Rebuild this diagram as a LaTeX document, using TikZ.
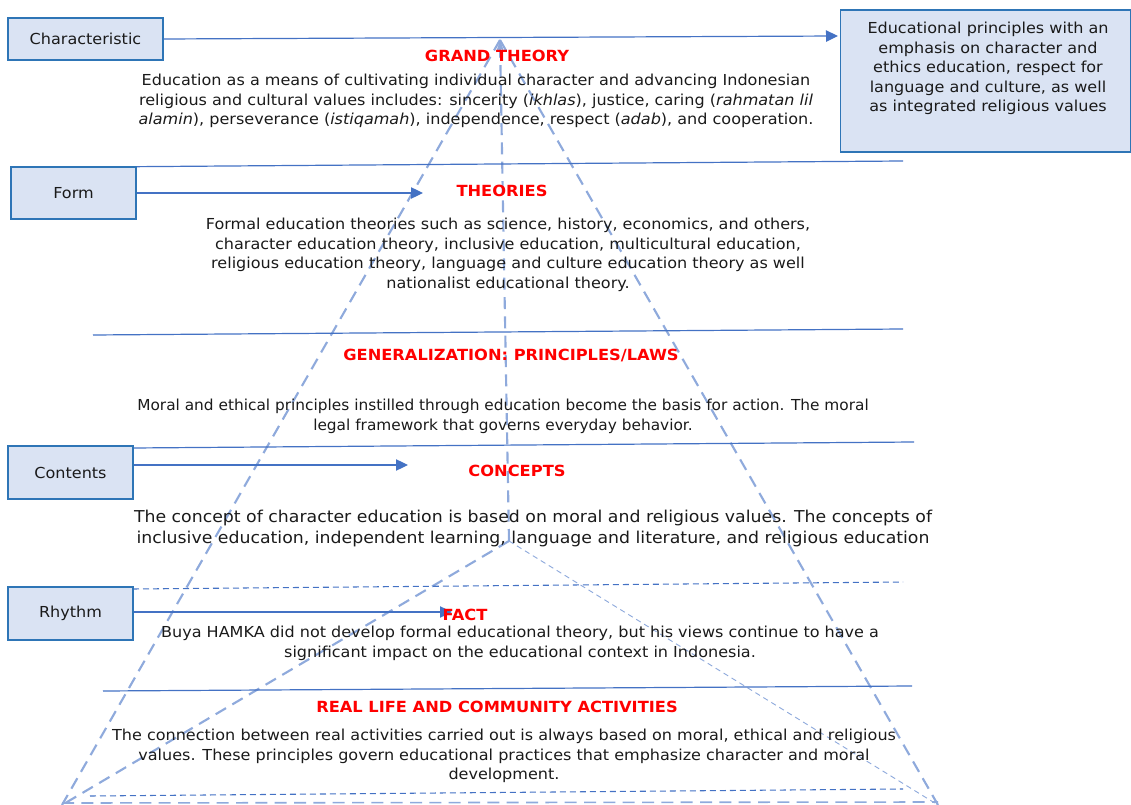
\documentclass[tikz,border=0pt]{standalone}
\usepackage{fontspec}
\setmainfont{DejaVu Sans}[FakeStretch=1.06]
\newfontfamily\narrowfam{DejaVu Sans}[FakeStretch=1.015]
\usetikzlibrary{arrows.meta}
\definecolor{boxfill}{HTML}{DAE3F3}
\definecolor{boxline}{HTML}{2E75B6}
\definecolor{hline}{HTML}{4472C4}
\definecolor{dline}{HTML}{8FAADC}
\definecolor{txt}{HTML}{1A1A1A}
\definecolor{head}{HTML}{FF0000}
\begin{document}
\begin{tikzpicture}[x=0.75pt,y=-0.75pt,
  lbox/.style={draw=boxline, fill=boxfill, line width=1pt, inner sep=0pt, text=txt,
    font=\fontsize{11.35}{14.6}\selectfont, align=center},
  body/.style={text=txt, align=center, inner sep=0pt, font=\fontsize{11.35}{14.6}\selectfont},
  narrowbody/.style={text=txt, align=center, inner sep=0pt, font=\narrowfam\fontsize{11.35}{14.6}\selectfont},
  bigbody/.style={text=txt, align=center, inner sep=0pt, font=\fontsize{12.25}{15.8}\selectfont},
  headtxt/.style={text=head, inner sep=0pt, font=\fontsize{11.5}{14.6}\selectfont\bfseries},
  solidline/.style={draw=hline, line width=0.9pt},
  arr/.style={draw=hline, line width=0.9pt, -{Triangle[length=9pt,width=8.5pt]}},
  darkdash/.style={draw=hline, line width=0.8pt, dash pattern=on 4.5pt off 3pt},
  bigdash/.style={draw=dline, line width=1.6pt, dash pattern=on 9pt off 5.5pt},
  thindash/.style={draw=dline, line width=0.7pt, dash pattern=on 4pt off 3pt}
]
\useasboundingbox (0,0) rectangle (1131,805);

% coordinates
\coordinate (apex) at (500,40);
\coordinate (ia) at (509,541);
\coordinate (bl) at (62,805);
\coordinate (br) at (938,805);
\coordinate (chT) at (838,36);
\coordinate (fmT) at (423,193);
\coordinate (ctT) at (408,465);
\coordinate (rhT) at (452,612);
\coordinate (l1a) at (93,167);  \coordinate (l1b) at (903,161);
\coordinate (l2a) at (93,335);  \coordinate (l2b) at (903,329);
\coordinate (l3a) at (133,448); \coordinate (l3b) at (914,442);
\coordinate (l4a) at (133,589); \coordinate (l4b) at (903,582);
\coordinate (l5a) at (103,691); \coordinate (l5b) at (912,686);
\coordinate (l6a) at (90,796);  \coordinate (l6b) at (903,789);
\coordinate (l7a) at (62,803);  \coordinate (l7b) at (938,802);

% dashed pyramid
\draw[bigdash] (apex) -- (bl);
\draw[bigdash] (apex) -- (br);
\draw[bigdash] (ia) -- (bl);
\draw[thindash] (ia) -- (br);
\draw[bigdash, -{Stealth[length=9pt,width=6pt,fill=dline]}] (ia) -- (apex);

% horizontal lines
\draw[solidline] (l1a) -- (l1b);
\draw[solidline] (l2a) -- (l2b);
\draw[solidline] (l3a) -- (l3b);
\draw[darkdash] (l4a) -- (l4b);
\draw[solidline] (l5a) -- (l5b);
\draw[darkdash] (l6a) -- (l6b);
\draw[bigdash, line width=1.2pt] (l7a) -- (l7b);

% boxes
\node[lbox, minimum width=116.25pt, minimum height=31.5pt] (ch) at (85.5,39) {Characteristic};
\node[lbox, minimum width=217.5pt, minimum height=106.5pt] (rb) at (985.5,81) {};
\node[body, anchor=north] (rbt) at (988,22) {Educational principles with an\\emphasis on character and\\ethics education, respect for\\language and culture, as well\\as integrated religious values};
\node[lbox, minimum width=93.75pt, minimum height=39pt] (fm) at (73.5,193) {Form};
\node[lbox, minimum width=93.75pt, minimum height=39.75pt] (ct) at (70.5,472.5) {Contents};
\node[lbox, minimum width=93.75pt, minimum height=39.75pt] (rh) at (70.5,613.5) {Rhythm};

% arrows
\draw[arr] (ch.east) -- (chT);
\draw[arr] (fm.east) -- (fmT);
\draw[arr] (ct.east |- ctT) -- (ctT);
\draw[arr] (rh.east |- rhT) -- (rhT);

% headings and texts
\node[headtxt] (h1) at (497,56) {GRAND THEORY};
\node[body] (t1) at (476,101) {Education as a means of cultivating individual character and advancing Indonesian\\religious and cultural values includes: sincerity (\textit{ikhlas}), justice, caring (\textit{rahmatan lil}\\\textit{alamin}), perseverance (\textit{istiqamah}), independence, respect (\textit{adab}), and cooperation.};

\node[headtxt] (h2) at (502,191) {THEORIES};
\node[body] (t2) at (508,255) {Formal education theories such as science, history, economics, and others,\\character education theory, inclusive education, multicultural education,\\religious education theory, language and culture education theory as well\\nationalist educational theory.};

\node[headtxt] (h3) at (511,356) {GENERALIZATION: PRINCIPLES/LAWS};
\node[narrowbody] (t3) at (503,416.5) {Moral and ethical principles instilled through education become the basis for action. The moral\\legal framework that governs everyday behavior.};

\node[headtxt] (h4) at (517,471) {CONCEPTS};
\node[bigbody] (t4) at (533,528.5) {The concept of character education is based on moral and religious values. The concepts of\\inclusive education, independent learning, language and literature, and religious education};

\node[headtxt] (h5) at (465,615) {FACT};
\node[body] (t5) at (520,643.5) {Buya HAMKA did not develop formal educational theory, but his views continue to have a\\significant impact on the educational context in Indonesia.};

\node[headtxt] (h6) at (497,707) {REAL LIFE AND COMMUNITY ACTIVITIES};
\node[body] (t6) at (504,756) {The connection between real activities carried out is always based on moral, ethical and religious\\values. These principles govern educational practices that emphasize character and moral\\development.};
\end{tikzpicture}
\end{document}
